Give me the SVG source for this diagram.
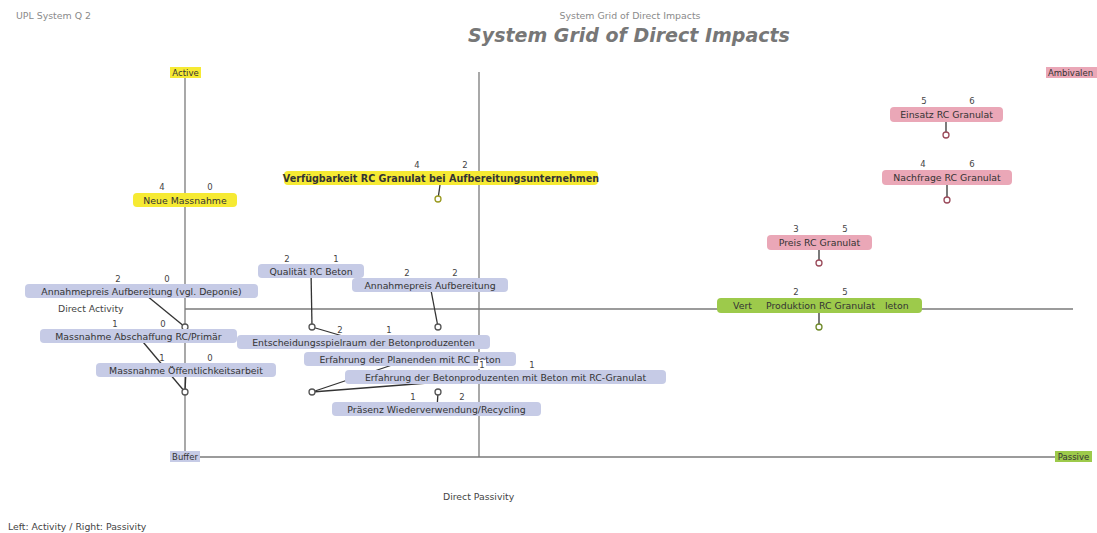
<svg xmlns="http://www.w3.org/2000/svg" width="1097" height="533" viewBox="0 0 1097 533">
<style>
text{font-family:"DejaVu Sans","Verdana",sans-serif;}
.hdr{font-size:9.4px;fill:#8a8a8a;}
.title{font-size:19px;font-weight:bold;font-style:italic;fill:#777;}
.lbl{font-size:9.3px;fill:#444;}
.axis{stroke:#7a7a7a;stroke-width:1.3;fill:none;}
.con{stroke:#333;stroke-width:1.3;fill:none;}
.pt{fill:#fff;stroke-width:1.3;}
.nt{font-size:9.35px;fill:#333;text-anchor:middle;}
.num{font-size:8.5px;fill:#444;text-anchor:middle;}
.y{fill:#f6ea33;}
.b{fill:#c6cbe6;}
.p{fill:#eaa7b7;}
.g{fill:#9dca4b;}
.ax{font-size:8.5px;fill:#333;text-anchor:middle;}
.st{text-anchor:start;}
</style>
<rect width="1097" height="533" fill="#fff"/>
<text class="hdr" x="16" y="19">UPL System Q 2</text>
<text class="hdr" x="630" y="19" text-anchor="middle">System Grid of Direct Impacts</text>
<text class="title" x="629" y="42" text-anchor="middle">System Grid of Direct Impacts</text>

<g id="axes">
<line class="axis" x1="185" y1="78" x2="185" y2="457"/>
<line class="axis" x1="479" y1="72" x2="479" y2="457"/>
<line class="axis" x1="185" y1="457" x2="1057" y2="457"/>
<line class="axis" x1="185" y1="309" x2="1073" y2="309"/>
<rect class="y" x="170" y="67" width="31" height="11"/>
<text class="ax" x="185.5" y="75.5">Active</text>
<rect class="p" x="1046" y="67" width="51" height="11"/>
<text class="ax st" x="1048" y="75.5">Ambivalen</text>
<rect class="b" x="170" y="451" width="30" height="11"/>
<text class="ax" x="185" y="460">Buffer</text>
<rect class="g" x="1055" y="451" width="37" height="11"/>
<text class="ax" x="1073.5" y="460">Passive</text>
<text class="lbl" x="58" y="312">Direct Activity</text>
<text class="lbl" x="443" y="500">Direct Passivity</text>
<text class="lbl" x="8" y="530">Left: Activity / Right: Passivity</text>
</g>

<g id="connectors">
<line class="con" x1="441" y1="178" x2="438" y2="199"/>
<line class="con" x1="141" y1="291" x2="185" y2="327"/>
<line class="con" x1="138" y1="336" x2="185" y2="392"/>
<line class="con" x1="186" y1="370" x2="185" y2="392"/>
<line class="con" x1="311" y1="271" x2="312" y2="327"/>
<line class="con" x1="430" y1="285" x2="438" y2="327"/>
<line class="con" x1="363" y1="342" x2="312" y2="327"/>
<line class="con" x1="410" y1="359" x2="312" y2="392"/>
<line class="con" x1="505" y1="377" x2="312" y2="392"/>
<line class="con" x1="437" y1="409" x2="438" y2="392"/>
<line class="con" x1="946" y1="114" x2="946" y2="134"/>
<line class="con" x1="947" y1="177" x2="947" y2="199"/>
<line class="con" x1="819" y1="242" x2="819" y2="262"/>
<line class="con" x1="819" y1="305" x2="819" y2="327"/>
<circle class="pt" cx="438" cy="199" r="3" stroke="#9a9a20"/>
<circle class="pt" cx="185" cy="197" r="3" stroke="#9a9a20"/>
<circle class="pt" cx="185" cy="327" r="3" stroke="#555"/>
<circle class="pt" cx="185" cy="392" r="3" stroke="#555"/>
<circle class="pt" cx="312" cy="327" r="3" stroke="#555"/>
<circle class="pt" cx="438" cy="327" r="3" stroke="#555"/>
<circle class="pt" cx="312" cy="392" r="3" stroke="#555"/>
<circle class="pt" cx="438" cy="392" r="3" stroke="#555"/>
<circle class="pt" cx="946" cy="135" r="3" stroke="#9a4a5a"/>
<circle class="pt" cx="947" cy="200" r="3" stroke="#9a4a5a"/>
<circle class="pt" cx="819" cy="263" r="3" stroke="#9a4a5a"/>
<circle class="pt" cx="819" cy="327" r="3" stroke="#6f8a2a"/>
</g>

<g id="node-neue-massnahme">
<rect class="y" x="133" y="193" width="104" height="14" rx="4"/>
<text class="nt" x="185" y="203.5">Neue Massnahme</text>
<text class="num" x="162" y="190">4</text><text class="num" x="210" y="190">0</text>
</g>
<g id="node-verfuegbarkeit">
<rect class="y" x="284" y="171" width="314" height="14" rx="4"/>
<text class="nt" x="441" y="181.5" font-weight="bold" style="font-size:9.6px">Verfügbarkeit RC Granulat bei Aufbereitungsunternehmen</text>
<text class="num" x="417" y="168">4</text><text class="num" x="465" y="168">2</text>
</g>
<g id="node-annahmepreis-deponie">
<rect class="b" x="25" y="284" width="233" height="14" rx="4"/>
<text class="nt" x="141.5" y="294.5">Annahmepreis Aufbereitung (vgl. Deponie)</text>
<text class="num" x="118" y="282">2</text><text class="num" x="167" y="282">0</text>
</g>
<g id="node-abschaffung">
<rect class="b" x="40" y="329" width="197" height="14" rx="4"/>
<text class="nt" x="138.5" y="339.5">Massnahme Abschaffung RC/Primär</text>
<text class="num" x="115" y="327">1</text><text class="num" x="163" y="327">0</text>
</g>
<g id="node-oeffentlichkeit">
<rect class="b" x="96" y="363" width="180" height="14" rx="4"/>
<text class="nt" x="186" y="373.5">Massnahme Öffentlichkeitsarbeit</text>
<text class="num" x="162" y="361">1</text><text class="num" x="210" y="361">0</text>
</g>
<g id="node-qualitaet">
<rect class="b" x="258" y="264" width="106" height="14" rx="4"/>
<text class="nt" x="311" y="274.5">Qualität RC Beton</text>
<text class="num" x="287" y="262">2</text><text class="num" x="336" y="262">1</text>
</g>
<g id="node-annahmepreis">
<rect class="b" x="352" y="278" width="156" height="14" rx="4"/>
<text class="nt" x="430" y="288.5">Annahmepreis Aufbereitung</text>
<text class="num" x="407" y="276">2</text><text class="num" x="455" y="276">2</text>
</g>
<g id="node-planenden">
<rect class="b" x="304" y="352" width="212" height="14" rx="4"/>
<text class="nt" x="410" y="362.5">Erfahrung der Planenden mit RC Beton</text>
</g>
<g id="node-entscheidung">
<rect class="b" x="237" y="335" width="253" height="14" rx="4"/>
<text class="nt" x="363.5" y="345.5">Entscheidungsspielraum der Betonproduzenten</text>
<text class="num" x="340" y="333">2</text><text class="num" x="389" y="333">1</text>
</g>
<g id="node-betonproduzenten">
<rect class="b" x="345" y="370" width="321" height="14" rx="4"/>
<text class="nt" x="505.5" y="380.5">Erfahrung der Betonproduzenten mit Beton mit RC-Granulat</text>
<rect x="478" y="360" width="8" height="9" fill="#fff"/>
<text class="num" x="482" y="368">1</text><text class="num" x="532" y="368">1</text>
</g>
<g id="node-praesenz">
<rect class="b" x="332" y="402" width="209" height="14" rx="4"/>
<text class="nt" x="436.5" y="412.5">Präsenz Wiederverwendung/Recycling</text>
<text class="num" x="413" y="400">1</text><text class="num" x="462" y="400">2</text>
</g>
<g id="node-einsatz">
<rect class="p" x="890" y="107" width="113" height="15" rx="4"/>
<text class="nt" x="946.5" y="118">Einsatz RC Granulat</text>
<text class="num" x="924" y="104">5</text><text class="num" x="972" y="104">6</text>
</g>
<g id="node-nachfrage">
<rect class="p" x="882" y="170" width="130" height="15" rx="4"/>
<text class="nt" x="947" y="181">Nachfrage RC Granulat</text>
<text class="num" x="923" y="167">4</text><text class="num" x="972" y="167">6</text>
</g>
<g id="node-preis">
<rect class="p" x="767" y="235" width="105" height="15" rx="4"/>
<text class="nt" x="819.5" y="246">Preis RC Granulat</text>
<text class="num" x="796" y="232">3</text><text class="num" x="845" y="232">5</text>
</g>
<g id="node-produktion">
<rect class="g" x="717" y="298" width="205" height="15" rx="4"/>
<text class="nt st" x="733" y="309">Vert</text>
<text class="nt" x="820.5" y="309">Produktion RC Granulat</text>
<text class="nt st" x="885" y="309">leton</text>
<text class="num" x="796" y="295">2</text><text class="num" x="845" y="295">5</text>
</g>
</svg>
